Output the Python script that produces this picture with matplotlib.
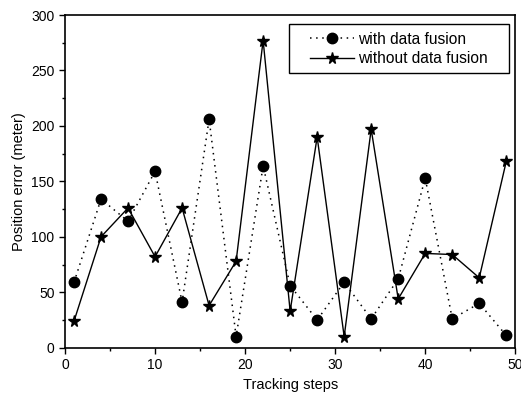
import matplotlib
matplotlib.use("Agg")
import matplotlib.pyplot as plt
from matplotlib.patches import Rectangle
from matplotlib.ticker import MultipleLocator

plt.rcParams['font.family'] = ['Liberation Sans', 'DejaVu Sans']

steps = [1, 4, 7, 10, 13, 16, 19, 22, 25, 28, 31, 34, 37, 40, 43, 46, 49]
with_fusion = [59, 134, 114, 159, 41, 206, 10, 164, 56, 25, 59, 26, 62, 153, 26, 40, 11]
without_fusion = [24, 100, 126, 82, 126, 38, 78, 277, 33, 190, 10, 197, 44, 85, 84, 63, 168]

fig = plt.figure(figsize=(5.21, 3.98), dpi=100)
ax = fig.add_axes([0.1248, 0.1264, 0.8642, 0.8359])

ax.plot(steps, with_fusion, linestyle=(0, (1, 3)), color='black', linewidth=1.1,
        marker='o', markersize=7.5, label='with data fusion')
ax.plot(steps, without_fusion, linestyle='-', color='black', linewidth=1.0,
        marker='*', markersize=8.5, label='without data fusion')

ax.set_xlim(0, 50)
ax.set_ylim(0, 300)
ax.xaxis.set_major_locator(MultipleLocator(10))
ax.xaxis.set_minor_locator(MultipleLocator(5))
ax.yaxis.set_major_locator(MultipleLocator(50))
ax.yaxis.set_minor_locator(MultipleLocator(25))
ax.tick_params(which='major', direction='out', length=4, width=1, labelsize=10)
ax.tick_params(which='minor', direction='out', length=2.5, width=1)
for s in ax.spines.values():
    s.set_linewidth(1.2)

ax.set_xlabel('Tracking steps', fontsize=10.5)
ax.set_ylabel('Position error (meter)', fontsize=10.5)

# legend box is wider than its content, so the frame is drawn separately
ax.add_patch(Rectangle((0.498, 0.825), 0.489, 0.147, transform=ax.transAxes,
                       facecolor='white', edgecolor='black', linewidth=1.0, zorder=4))
leg = ax.legend(loc='upper left', bbox_to_anchor=(0.545, 0.95), fontsize=11.2,
                frameon=False, borderpad=0, borderaxespad=0, handlelength=2.8,
                handletextpad=0.25, labelspacing=0.3)
leg.set_zorder(5)

fig.savefig('out.png', dpi=100)
